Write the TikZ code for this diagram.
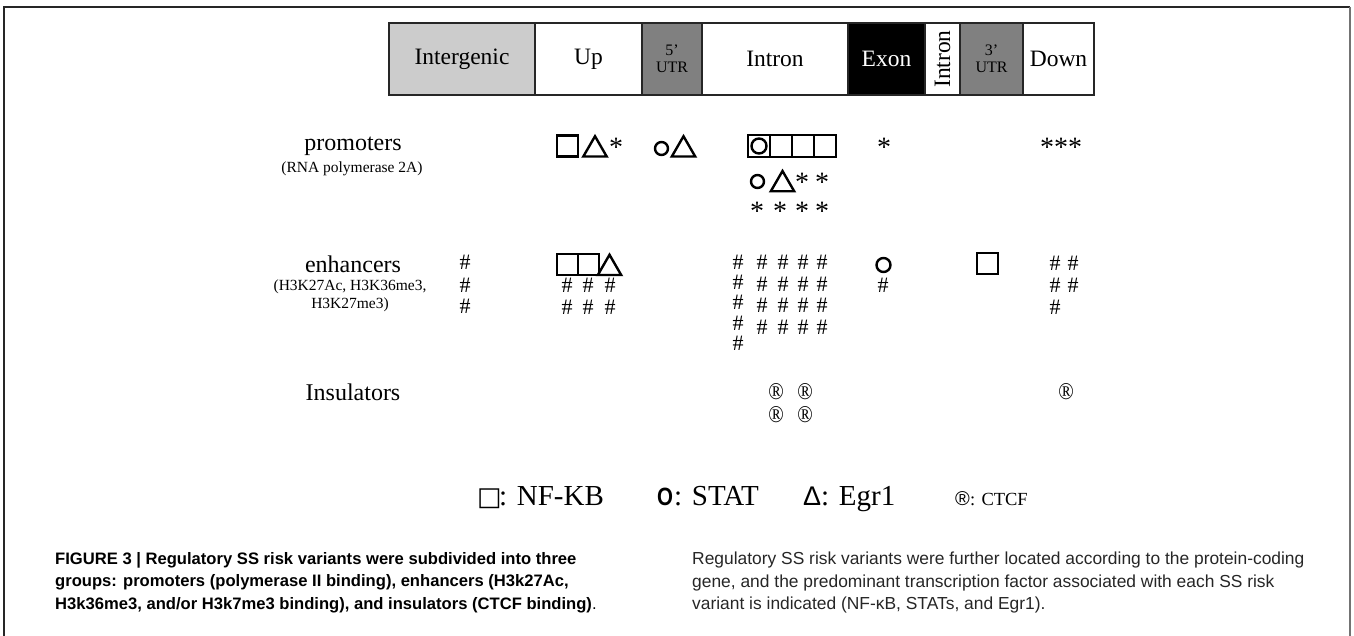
\documentclass[tikz,border=0pt]{standalone}
\usepackage{fontspec}
\setmainfont{Liberation Serif}
\newfontfamily\capfont{Liberation Sans}
\newfontfamily\symfont{DejaVu Sans}
\usetikzlibrary{shapes.geometric}
\definecolor{lgray}{HTML}{CCCCCC}
\definecolor{mgray}{HTML}{808080}
\newcommand{\regm}{\scalebox{0.85}[1]{®}}
\begin{document}
\begin{tikzpicture}[x=1pt,y=-1pt,
  seg/.style={draw=black!85, line width=1.2pt, minimum height=72pt, inner sep=0pt, anchor=center, font=\fontsize{23.5}{26}\selectfont},
  small/.style={font=\fontsize{16}{17}\selectfont, align=center, inner sep=0pt},
  sq/.style={draw, line width=2.6pt, minimum size=21pt, inner sep=0pt},
  circ/.style={draw, circle, line width=2.4pt, minimum size=13pt, inner sep=0pt},
  tri/.style={draw, regular polygon, regular polygon sides=3, line width=2.4pt, minimum size=27pt, inner sep=0pt},
  ast/.style={font=\fontsize{28}{28}\selectfont, inner sep=0pt},
  hsh/.style={font=\fontsize{22}{22}\selectfont, inner sep=0pt},
  rg/.style={font=\fontsize{24}{24}\selectfont, inner sep=0pt},
  lbl/.style={font=\fontsize{24}{26}\selectfont, inner sep=0pt},
  sub/.style={font=\fontsize{15.5}{18}\selectfont, inner sep=0pt},
  legt/.style={font=\fontsize{29}{30}\selectfont, inner sep=0pt, anchor=base west},
  legs/.style={inner sep=0pt, anchor=base west},
  ]
\useasboundingbox (0,0) rectangle (1354,636);
% frame
\draw[line width=1.5pt, black!85] (4,636) -- (4,7) -- (1350,7);
\draw[line width=1.5pt, black!55] (1350,7) -- (1350,636);

% top bar
\node[seg, fill=lgray, minimum width=146pt] (ig) at (462,59) {Intergenic};
\node[seg, fill=white, minimum width=107pt] (up) at (588.5,59) {Up};
\node[seg, fill=mgray, minimum width=60pt] (u5) at (672,59) {};
\node[small] (u5t) at (u5) {5’\\UTR};
\node[seg, fill=white, minimum width=146pt] (in1) at (775,59) {Intron};
\node[seg, fill=black, text=white, minimum width=77pt] (ex) at (886.5,59) {Exon};
\node[seg, fill=white, minimum width=35pt] (in2) at (942.5,59) {};
\node[rotate=90, inner sep=0pt, font=\fontsize{23.5}{26}\selectfont] (in2t) at (in2) {Intron};
\node[seg, fill=mgray, minimum width=63pt] (u3) at (991.5,59) {};
\node[small] (u3t) at (u3) {3’\\UTR};
\node[seg, fill=white, minimum width=71pt] (dn) at (1058.5,59) {Down};

% row labels
\node[lbl] (lp) at (353,146) {promoters};
\node[sub] (lps) at (352,169) {(RNA polymerase 2A)};
\node[lbl] (le) at (353,264) {enhancers};
\node[sub] (les1) at (350,287) {(H3K27Ac, H3K36me3,};
\node[sub] (les2) at (350,305) {H3K27me3)};
\node[lbl] (li) at (353,392) {Insulators};

% promoters
\node[sq] (p1) at (567.5,146) {};
\node[tri] (p2) at (595,149.75) {};
\node[ast] (p3) at (616,147) {*};
\node[circ] (p4) at (661.5,148.5) {};
\node[tri] (p5) at (683.5,149.75) {};
\node[sq, minimum size=22pt] (g1) at (759,146) {};
\node[sq, minimum size=22pt] (g2) at (781,146) {};
\node[sq, minimum size=22pt] (g3) at (803,146) {};
\node[sq, minimum size=22pt] (g4) at (825,146) {};
\node[circ, minimum size=15pt] (g1c) at (759,146) {};
\node[circ] (q1) at (757.5,181.5) {};
\node[tri] (q2) at (782.5,184.5) {};
\node[ast] (q3) at (802,182) {*};
\node[ast] (q4) at (822,182) {*};
\node[ast] (r1) at (757,211) {*};
\node[ast] (r2) at (780,211) {*};
\node[ast] (r3) at (802,211) {*};
\node[ast] (r4) at (822,211) {*};
\node[ast] (p6) at (884,147) {*};
\node[ast] (p7) at (1061,147) {***};

% enhancers
\foreach \y [count=\i] in {262,285,306} \node[hsh] (ea\i) at (465,\y) {\#};
\node[sq] (e1) at (567.5,264.5) {};
\node[sq] (e2) at (588.5,264.5) {};
\node[tri] (e3) at (609.5,268.25) {};
\foreach \x [count=\j] in {567,588,610}
  \foreach \y [count=\i] in {285,307} \node[hsh] (eb\j\i) at (\x,\y) {\#};
\foreach \y [count=\i] in {262,282,302,323,343} \node[hsh] (ec1\i) at (738,\y) {\#};
\foreach \x [count=\j from 2] in {762,783,803,822}
  \foreach \y [count=\i] in {262,284,305,327} \node[hsh] (ec\j\i) at (\x,\y) {\#};
\node[circ, minimum size=14pt] (ed1) at (883.5,265) {};
\node[hsh] (ed2) at (883,285) {\#};
\node[sq] (ee) at (987.5,263.5) {};
\foreach \y [count=\i] in {263,285,307} \node[hsh] (ef\i) at (1055,\y) {\#};
\foreach \y [count=\i] in {263,285} \node[hsh] (eg\i) at (1073,\y) {\#};

% insulators
\node[rg] (i1) at (776,392) {\regm};
\node[rg] (i2) at (805,392) {\regm};
\node[rg] (i3) at (776,415) {\regm};
\node[rg] (i4) at (805,415) {\regm};
\node[rg] (i5) at (1066,392) {\regm};

% legend
\node[legs, font=\symfont\fontsize{26}{26}\selectfont] (k1s) at (477,505) {□};
\node[legt] (k1t) at (499,505) {: NF-KB};
\node[legs, font=\capfont\bfseries\fontsize{25}{25}\selectfont] (k2s) at (657,505) {\scalebox{0.82}[1]{O}};
\node[legt] (k2t) at (674,505) {: STAT};
\node[legs, font=\capfont\fontsize{27}{27}\selectfont] (k3s) at (803,505) {Δ};
\node[legt] (k3t) at (821,505) {: Egr1};
\node[legs, font=\capfont\fontsize{20}{20}\selectfont] (k4s) at (955,505) {®};
\node[legt, font=\fontsize{18.5}{20}\selectfont] (k4t) at (970,505) {: CTCF};

% caption
\node[anchor=north west, inner sep=0pt, align=left, font=\capfont\bfseries\fontsize{16.6}{22.5}\selectfont] (c1) at (55,552)
 {FIGURE 3 | Regulatory SS risk variants were subdivided into three\\
  groups: promoters (polymerase II binding), enhancers (H3k27Ac,\\
  H3k36me3, and/or H3k7me3 binding), and insulators (CTCF binding){\mdseries.}};
\node[anchor=north west, inner sep=0pt, align=left, text=black!85, font=\capfont\fontsize{17.4}{22.5}\selectfont] (c2) at (692,552)
 {Regulatory SS risk variants were further located according to the protein-coding\\
  gene, and the predominant transcription factor associated with each SS risk\\
  variant is indicated (NF-κB, STATs, and Egr1).};
\end{tikzpicture}
\end{document}
